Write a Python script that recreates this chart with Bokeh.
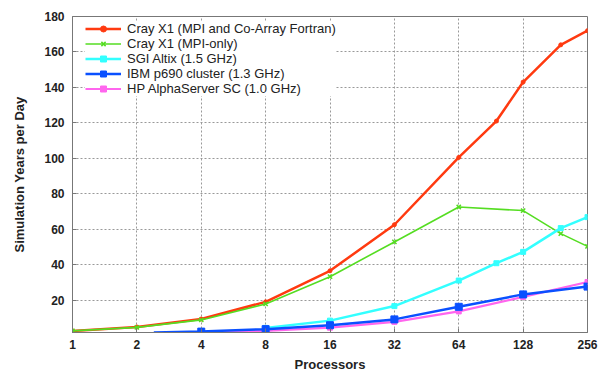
from bokeh.plotting import figure
from bokeh.models import FixedTicker, Legend, LegendItem
from bokeh.embed import file_html
from bokeh.resources import INLINE

x_ticks = [1, 2, 4, 8, 16, 32, 64, 128, 256]
x_tick_labels = ["1", "2", "4", "8", "16", "32", "64", "128", "256"]
y_ticks = [20, 40, 60, 80, 100, 120, 140, 160, 180]

caf_procs = [1, 2, 4, 8, 16, 32, 64, 96, 128, 192, 256]
caf_vals = [2.6, 4.8, 9.3, 19, 36.5, 62.5, 100.5, 121, 143, 164, 172]

mpi_procs = [1, 2, 4, 8, 16, 32, 64, 128, 192, 256]
mpi_vals = [2.6, 4.6, 8.8, 17.8, 33.2, 52.8, 72.5, 70.5, 57.5, 50.3]

sgi_procs = [8, 16, 32, 64, 96, 128, 192, 256]
sgi_vals = [4.3, 8.4, 16.6, 31, 40.8, 47.2, 60.6, 66.8]

ibm_procs = [2.4, 4, 8, 16, 32, 64, 128, 256]
ibm_vals = [1.7, 2.2, 3.6, 5.8, 9.1, 16.2, 23.2, 27.6]

hp_procs = [4, 8, 16, 32, 64, 128, 256]
hp_vals = [1.6, 2.6, 4.4, 7.7, 13.6, 21.8, 30.2]

labels = [
    "Cray X1 (MPI and Co-Array Fortran)",
    "Cray X1 (MPI-only)",
    "SGI Altix (1.5 GHz)",
    "IBM p690 cluster (1.3 GHz)",
    "HP AlphaServer SC (1.0 GHz)",
]
colors = ["#ff3a10", "#55dd22", "#33ffff", "#0a50ff", "#ff66ee"]

FONT = "Liberation Sans"

p = figure(width=604, height=374, x_axis_type="log",
           x_range=(1, 256), y_range=(1.7, 180),
           output_backend="svg", toolbar_location=None,
           min_border_left=72, min_border_right=17,
           min_border_top=16, min_border_bottom=39)

p.outline_line_color = "#777777"
p.outline_line_width = 1

for ax in (p.xaxis[0], p.yaxis[0]):
    ax.axis_line_color = "#777777"
    ax.major_tick_line_color = "#777777"
    ax.major_tick_in = 4
    ax.major_tick_out = 0
    ax.minor_tick_line_color = None
    ax.major_label_text_font = FONT
    ax.major_label_text_font_size = "12px"
    ax.major_label_text_font_style = "bold"
    ax.major_label_text_color = "#222222"
    ax.axis_label_text_font = FONT
    ax.axis_label_text_font_size = "13px"
    ax.axis_label_text_font_style = "bold"
    ax.axis_label_text_color = "#222222"

p.xaxis.ticker = FixedTicker(ticks=x_ticks)
p.xaxis.major_label_overrides = {t: l for t, l in zip(x_ticks, x_tick_labels)}
p.xaxis.axis_label = "Processors"
p.xaxis.major_label_standoff = 7
p.xaxis.axis_label_standoff = 5
p.yaxis.ticker = FixedTicker(ticks=y_ticks)
p.yaxis.axis_label = "Simulation Years per Day"
p.yaxis.major_label_standoff = 8
p.yaxis.axis_label_standoff = 14

for g in (p.xgrid[0], p.ygrid[0]):
    g.grid_line_color = "#999999"
    g.grid_line_dash = "2 2"
    g.grid_line_width = 1
p.xgrid.ticker = FixedTicker(ticks=x_ticks)
p.ygrid.ticker = FixedTicker(ticks=y_ticks)

items = []

r1 = p.line(caf_procs, caf_vals, color=colors[0], line_width=2.5)
m1 = p.scatter(caf_procs, caf_vals, marker="circle", size=4, color=colors[0])
items.append(LegendItem(label=labels[0], renderers=[r1, m1]))

r2 = p.line(mpi_procs, mpi_vals, color=colors[1], line_width=1.6)
m2 = p.scatter(mpi_procs, mpi_vals, marker="x", size=6, line_width=1.5, color=colors[1])
items.append(LegendItem(label=labels[1], renderers=[r2, m2]))

r3 = p.line(sgi_procs, sgi_vals, color=colors[2], line_width=2.5)
m3 = p.scatter(sgi_procs, sgi_vals, marker="square", size=5, color=colors[2])
items.append(LegendItem(label=labels[2], renderers=[r3, m3]))

r5 = p.line(hp_procs, hp_vals, color=colors[4], line_width=2.2)
m5 = p.scatter(hp_procs, hp_vals, marker="square", size=5, color=colors[4])

r4 = p.line(ibm_procs, ibm_vals, color=colors[3], line_width=2.5)
m4 = p.scatter(ibm_procs[1:], ibm_vals[1:], marker="square", size=7, color=colors[3])
items.append(LegendItem(label=labels[3], renderers=[r4, m4]))
items.append(LegendItem(label=labels[4], renderers=[r5, m5]))

legend = Legend(items=items, location=(13, 236))
legend.margin = 0
legend.padding = 5
legend.spacing = 0
legend.label_height = 15
legend.glyph_height = 15
legend.glyph_width = 36
legend.label_standoff = 6
legend.label_text_font = FONT
legend.label_text_font_size = "13px"
legend.label_text_color = "#222222"
legend.border_line_color = None
legend.background_fill_color = "white"
legend.background_fill_alpha = 1.0
p.add_layout(legend, "center")

open("out.html", "w").write(file_html(p, INLINE))
